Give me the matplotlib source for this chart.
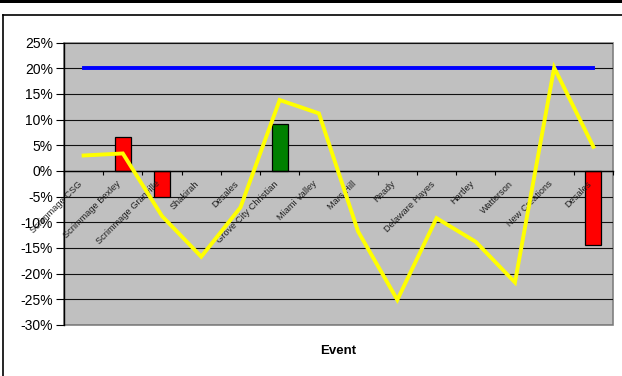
import matplotlib
matplotlib.use('Agg')
from matplotlib import pyplot as plt
from matplotlib.lines import Line2D
from matplotlib.patches import Rectangle
from matplotlib.ticker import FuncFormatter

plt.rcParams['font.family'] = ['Liberation Sans', 'DejaVu Sans']

# Data
events = ['Scrimmage CSG', 'Scrimmage Bexley', 'Scrimmage Granville', 'Shakirah',
          'Desales', 'Grove City Christian', 'Miami Valley', 'Mars Hill', 'Ready',
          'Delaware Hayes', 'Hartley', 'Watterson', 'New Creations', 'Desales']
line_vals = [3.0, 3.4, -8.8, -16.7, -7.1, 13.8, 11.2, -11.8, -25.1, -9.2,
             -13.8, -21.7, 20.1, 4.7]
target_vals = [20.0] * 14
bar_idx = [1, 2, 5, 13]
bar_vals = [6.6, -5.1, 9.1, -14.4]
bar_colors = ['#FF0000', '#FF0000', '#008000', '#FF0000']
y_ticks = [25, 20, 15, 10, 5, 0, -5, -10, -15, -20, -25, -30]

##########################################################################
#   Figure
##########################################################################

W, H = 622, 376
fig = plt.figure(figsize=(W / 100, H / 100), dpi=100)
ax = fig.add_axes([64 / W, 1 - 325 / H, (613 - 64) / W, (325 - 42.5) / H])

ax.set_facecolor('#C0C0C0')
ax.patch.set_edgecolor('#808080')
ax.patch.set_linewidth(1.2)
ax.set_axisbelow(False)  # category labels over the bars

x = list(range(len(events)))

for yv in y_ticks:
    ax.axhline(yv, color='#111111', lw=0.8, zorder=1)

# bars sit below the category labels, the lines above them
ax.bar(bar_idx, bar_vals, width=0.41, color=bar_colors, edgecolor='black',
       linewidth=0.9, zorder=2)
ax.plot(x, target_vals, color='#0000FF', lw=2.8, zorder=4)
ax.plot(x, line_vals, color='#FFFF00', lw=2.8, zorder=5,
        solid_joinstyle='miter')

ax.set_xlim(-0.5, len(events) - 0.5)
ax.set_ylim(-30, 25)
ax.set_yticks(y_ticks)
ax.yaxis.set_major_formatter(FuncFormatter(lambda v, p: '%d%%' % v))
ax.tick_params(axis='y', direction='out', length=6, width=0.8, pad=2,
               labelsize=10, color='black')

ax.spines['bottom'].set_position(('data', 0))
ax.spines['bottom'].set_linewidth(1.0)
ax.spines['left'].set_linewidth(1.0)
ax.spines['top'].set_visible(False)
ax.spines['right'].set_visible(False)

ax.set_xticks(x)
ax.set_xticklabels(events, rotation=45, ha='right', va='top', fontsize=6.7,
                   color='#202020')
ax.set_xticks([i - 0.5 for i in range(len(events) + 1)], minor=True)
ax.tick_params(axis='x', which='major', length=0, pad=6)
ax.tick_params(axis='x', which='minor', direction='out', length=3, width=0.8)

fig.text((64 + 613) / 2 / W, 1 - 351 / H, 'Event', ha='center', va='center',
         fontsize=9.5, fontweight='bold')

# outer frame
fig.add_artist(Rectangle((0, 1 - 3 / H), 1, 3 / H, transform=fig.transFigure,
                         color='black', lw=0))
fig.add_artist(Line2D([2.5 / W, 1], [1 - 14.5 / H, 1 - 14.5 / H],
                      transform=fig.transFigure, color='black', lw=1.2))
fig.add_artist(Line2D([2.5 / W, 2.5 / W], [0, 1 - 14.5 / H],
                      transform=fig.transFigure, color='black', lw=1.2))

fig.savefig('out.png', dpi=100)
